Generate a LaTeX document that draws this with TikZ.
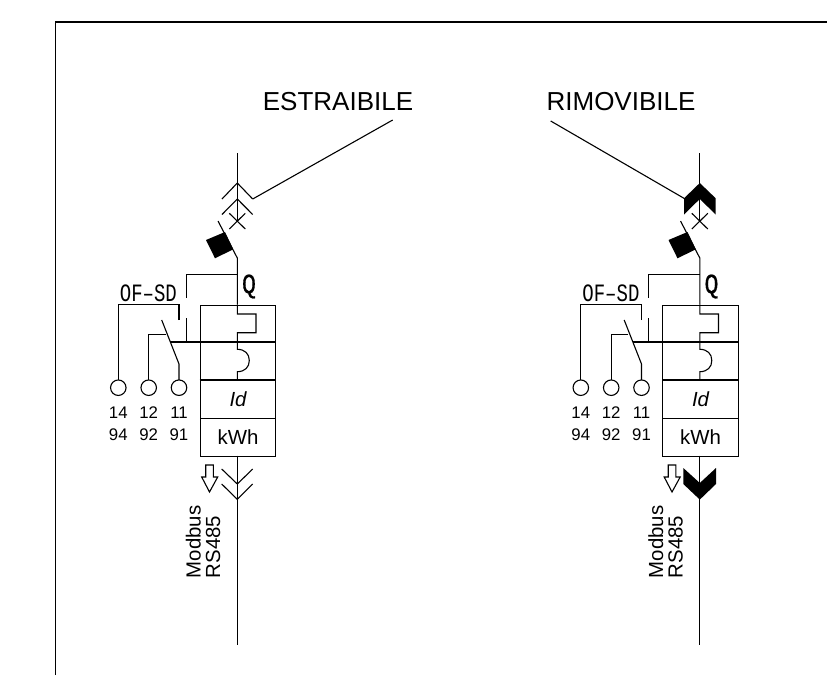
\documentclass[tikz,border=0pt]{standalone}
\usepackage{fontspec}
\setmainfont{Liberation Sans}
\tikzset{
  wire/.style={line width=1.1pt,draw=black},
  thick wire/.style={line width=1.7pt,draw=black},
  term/.style={circle,draw=black,line width=1.1pt,minimum size=15.5pt,inner sep=0pt,fill=white},
  txt/.style={inner sep=0pt,font=\fontsize{16.8pt}{18pt}\selectfont},
  box/.style={draw=black,line width=1.2pt,minimum width=75.5pt,inner sep=0pt,anchor=north west},
  vtext/.style={inner sep=0pt,rotate=90,anchor=base west,font=\fontsize{20.4pt}{22pt}\selectfont},
}
\newcommand{\unit}[2]{%
\begin{scope}[xshift=#1]
  \coordinate (top) at (237.3,153);
  \coordinate (cross) at (237.3,221);
  \draw[wire] (top) -- (cross);
  % cross
  \coordinate (xa) at (229.3,213.3); \coordinate (xb) at (245.3,229);
  \coordinate (xc) at (245.3,213.3); \coordinate (xd) at (229.3,229);
  \draw[wire] (xa) -- (xb); \draw[wire] (xc) -- (xd);
  % blade
  \coordinate (bladeTop) at (218,221); \coordinate (bladeBot) at (237.3,258);
  \draw[wire] (bladeTop) -- (bladeBot) -- (237.3,304.5);
  \fill[black] (206,240) -- (225,232) -- (233.3,249.3) -- (215,258.3) -- cycle;
  % auxiliary contact
  \draw[wire] (237.3,274.3) -- (186.3,274.3) -- (186.3,298);
  \draw[wire] (186.3,318) -- (186.3,342);
  \draw[wire] (170,342) -- (199.7,342);
  \draw[wire] (179,320) -- (179,304.3) -- (118.3,304.3) -- (118.3,380);
  \draw[wire] (148.7,380) -- (148.7,334.3) -- (165.7,334.3);
  \draw[wire] (161.7,320) -- (179,364) -- (179,380);
  \node[term] (t14) at (118.3,387.7) {};
  \node[term] (t12) at (148.7,387.7) {};
  \node[term] (t11) at (179,387.7) {};
  \node[txt] (n14) at (118.3,413) {14};
  \node[txt] (n12) at (148.7,413) {12};
  \node[txt] (n11) at (179,413) {11};
  \node[txt] (n94) at (118.3,435) {94};
  \node[txt] (n92) at (148.7,435) {92};
  \node[txt] (n91) at (179,435) {91};
  % box
  \node[box,minimum height=37.5pt] (b1) at (199.7,304.5) {};
  \node[box,minimum height=38pt] (b2) at (199.7,342) {};
  \node[box,minimum height=38pt,font=\fontsize{20.4pt}{22pt}\selectfont\itshape] (b3) at (199.7,380) {Id};
  \node[box,minimum height=37.7pt,font=\fontsize{20.4pt}{22pt}\selectfont] (b4) at (199.7,418) {kWh};
  \draw[thick wire] (199.7,342) -- (275.2,342);
  \draw[thick wire] (199.7,380) -- (275.2,380);
  \draw[wire] (237.3,304.5) -- (237.3,314) -- (256,314) -- (256,332.7) -- (237.3,332.7) -- (237.3,349.3)
     .. controls (245,349.3) and (249.3,354) .. (249.3,360.5)
     .. controls (249.3,367) and (245,371.7) .. (237.3,371.7) -- (237.3,380);
  % labels
  \node[inner sep=0pt,anchor=center] (of) at (148.4,293.3) {\resizebox{57pt}{16.7pt}{\fontspec{Liberation Mono}OF–SD}};
  \node[inner sep=0pt,anchor=center] (q) at (249,286.5) {\resizebox*{14pt}{24pt}{\fontspec{Liberation Mono}[FakeBold=0.5]Q}};
  % signal arrow
  \draw[wire,fill=white] (205.7,465) -- (213.3,465) -- (213.3,477) -- (217.7,477) -- (209.5,492) -- (201.7,477) -- (205.7,477) -- cycle;
  \node[vtext] (mod) at (200.7,578.5) {Modbus};
  \node[vtext] (rs) at (220,578.5) {RS485};
  \draw[wire] (237.3,455.7) -- (237.3,645);
\end{scope}}
\begin{document}
\begin{tikzpicture}[x=1pt,y=-1pt]
\useasboundingbox (0,0) rectangle (827,675);
\fill[white] (0,0) rectangle (827,675);
\coordinate (frameTR) at (827,22); \coordinate (frameTL) at (55.7,22); \coordinate (frameBL) at (55.7,675);
\draw[line width=1.1pt] (frameBL) -- (frameTL) -- (frameTR);
\unit{0pt}{}
\unit{462.5pt}{}
% left (extractable) plug
\draw[wire] (222,199) -- (237.3,183) -- (252.7,199);
\draw[wire] (222,214.5) -- (237.3,199) -- (252.7,214.5);
\draw[wire] (221.7,469) -- (237.3,484) -- (252.7,469);
\draw[wire] (221.7,484) -- (237.3,499.3) -- (252.7,484);
% right (removable) plug
\fill[black] (699.8,183) -- (715.7,198.3) -- (715.7,214.5) -- (699.8,199) -- (684,214.5) -- (684,198.3) -- cycle;
\fill[black] (683.3,468) -- (699.8,483) -- (716,468) -- (716,484) -- (699.8,499.6) -- (683.3,484) -- cycle;
% headings
\node[inner sep=0pt,font=\fontsize{26pt}{28pt}\selectfont] (est) at (338,101.3) {ESTRAIBILE};
\node[inner sep=0pt,font=\fontsize{26pt}{28pt}\selectfont] (rim) at (621,101.3) {RIMOVIBILE};
\coordinate (lp) at (252.7,199); \coordinate (rp) at (684,198.3);
\coordinate (le) at (392.7,120); \coordinate (re) at (550.7,121);
\draw[wire] (lp) -- (le);
\draw[wire] (rp) -- (re);
\end{tikzpicture}
\end{document}
